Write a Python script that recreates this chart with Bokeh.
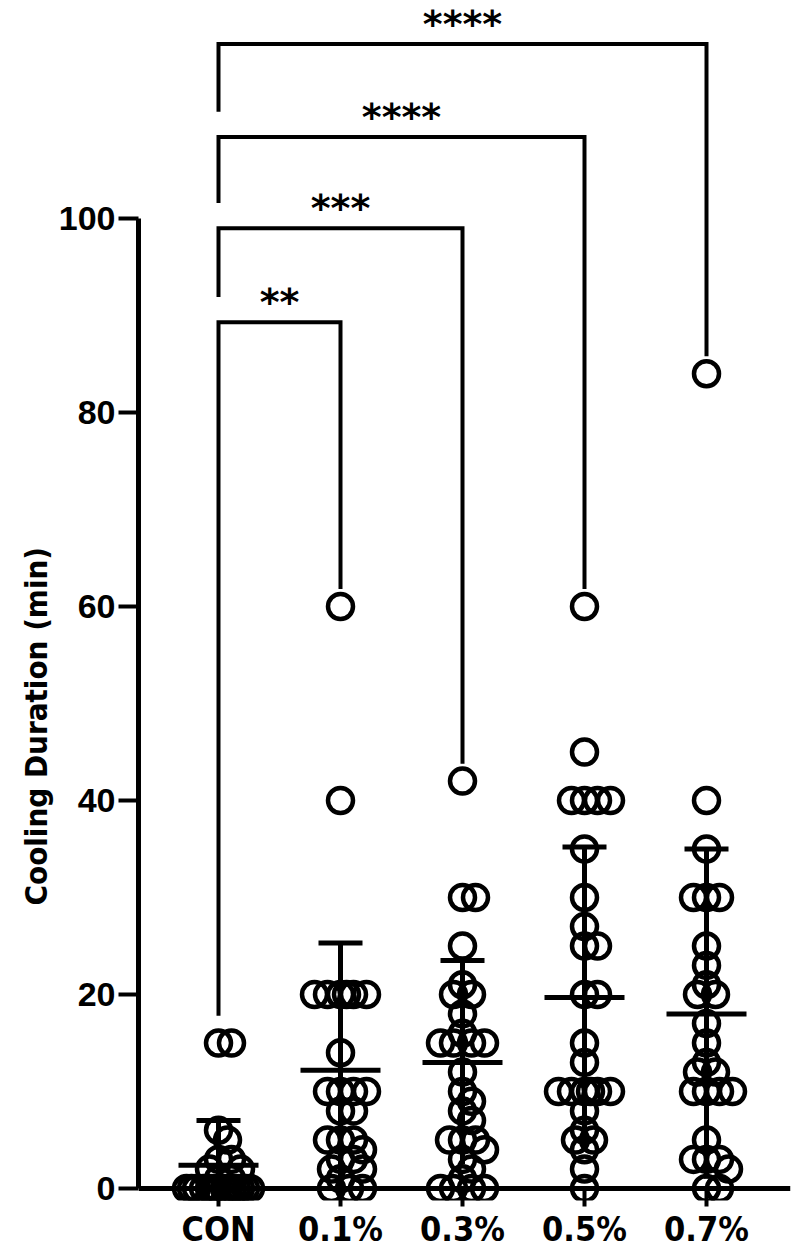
import math
from bokeh.plotting import figure
from bokeh.models import FixedTicker, Span, Range1d, Title
from bokeh.core.properties import value
from bokeh.embed import file_html
from bokeh.resources import INLINE

# ---------------- data ----------------
categories = ["CON", "0.1%", "0.3%", "0.5%", "0.7%"]

con = [15, 15, 6, 5, 3, 3, 2, 2, 1, 1, 0, 0, 0, 0, 0, 0, 0, 0, 0, 0, 0, 0, 0, 0]
p01 = [60, 40, 20, 20, 20, 20, 20, 20, 14, 10, 10, 10, 10, 8, 8, 5, 5, 5, 4, 3, 3, 2, 2, 1, 0, 0, 0]
p03 = [42, 30, 30, 25, 21, 20, 20, 18, 16, 15, 15, 15, 15, 12, 10, 9, 8, 7, 5, 5, 5, 4, 3, 2, 1, 0, 0, 0, 0]
p05 = [60, 45, 40, 40, 40, 40, 35, 30, 27, 25, 25, 20, 20, 15, 13, 10, 10, 10, 10, 10, 10, 8, 6, 5, 5, 4, 2, 0]
p07 = [84, 40, 35, 30, 30, 30, 25, 23, 21, 20, 20, 17, 15, 13, 12, 12, 10, 10, 10, 10, 5, 3, 3, 3, 2, 0, 0]
groups = [con, p01, p03, p05, p07]

means = [2.4, 12.2, 13.0, 19.7, 18.0]
sds = [4.6, 13.1, 10.5, 15.5, 17.0]

# significance brackets: CON vs each treatment
comparisons = ["0.1%", "0.3%", "0.5%", "0.7%"]
sig_labels = ["**", "***", "****", "****"]
bracket_heights = [89.3, 99.0, 108.4, 118.0]

y_ticks = [0, 20, 40, 60, 80, 100]
y_title = "Cooling Duration (min)"

# ---------------- geometry ----------------
PX_X = 122.0   # pixels per category
PX_Y = 9.7     # pixels per minute
W, H = 800, 1252
BL, BR, BB = 138, 10, 52
frame_w, frame_h = W - BL - BR, H - BB
x0 = -80.0 / PX_X
x1 = x0 + frame_w / PX_X
y1 = 1188.0 / PX_Y
y0 = y1 - frame_h / PX_Y


def swarm(vals, dmin=13.0, wmax=32):
    placed = []
    offs = sorted(range(-wmax, wmax + 1), key=lambda o: (abs(o), -o))
    out = []
    for v in vals:
        yp = v * PX_Y
        best, bestd = 0, -1.0
        for o in offs:
            d = min((math.hypot(o - px, yp - py) for px, py in placed), default=1e9)
            if d >= dmin:
                best = o
                break
            if d > bestd:
                bestd, best = d, o
        placed.append((best, yp))
        out.append(best / PX_X)
    return out


p = figure(width=W, height=H, output_backend="svg", toolbar_location=None,
           x_range=Range1d(x0, x1), y_range=Range1d(y0, y1),
           min_border_left=BL, min_border_right=BR, min_border_top=0, min_border_bottom=BB)
p.outline_line_color = None
p.xgrid.visible = False
p.ygrid.visible = False
p.background_fill_color = "white"

# points
for i, vals in enumerate(groups):
    xs = [i + o for o in swarm(vals)]
    p.scatter(xs, vals, size=25, marker="circle", fill_alpha=0,
              line_color="black", line_width=4.5)

# mean and SD
xc = list(range(len(categories)))
p.segment(x0=[i - 40 / PX_X for i in xc], x1=[i + 40 / PX_X for i in xc],
          y0=means, y1=means, line_color="black", line_width=5)
p.segment(x0=xc, x1=xc, y0=[m - s for m, s in zip(means, sds)],
          y1=[m + s for m, s in zip(means, sds)], line_color="black", line_width=5)
p.segment(x0=[i - 22 / PX_X for i in xc], x1=[i + 22 / PX_X for i in xc],
          y0=[m + s for m, s in zip(means, sds)], y1=[m + s for m, s in zip(means, sds)],
          line_color="black", line_width=5)

# x axis line at 0
p.add_layout(Span(location=0, dimension="width", line_color="black", line_width=5))

# brackets
bx, by = [], []
lx, ly, lt = [], [], []
prev_top = max(con) + 2.8
for comp, lab, h in zip(comparisons, sig_labels, bracket_heights):
    k = categories.index(comp)
    right_bottom = max(groups[k]) + 1.8
    bx.append([0, 0, k, k])
    by.append([prev_top, h, h, right_bottom])
    prev_top = h + 2.6
    lx.append(k / 2.0)
    ly.append(h)
    lt.append(lab)
p.multi_line(bx, by, line_color="black", line_width=4, line_join="miter", line_cap="butt")
p.text(lx, ly, text=lt, text_font=value("DejaVu Sans"), text_font_style="bold",
       text_font_size="38px", text_align="center", text_baseline="middle",
       y_offset=-20, text_color="black")

# y axis
ya = p.yaxis[0]
ya.bounds = (0, 100)
ya.ticker = FixedTicker(ticks=y_ticks)
ya.axis_line_width = 5
ya.major_tick_line_width = 4
ya.major_tick_out = 20
ya.major_tick_in = 0
ya.minor_tick_line_color = None
ya.major_label_text_font = "Liberation Sans"
ya.major_label_text_font_style = "bold"
ya.major_label_text_font_size = "34px"
ya.major_label_text_color = "black"
ya.major_label_standoff = 3

# y title (placed as a side title so it can sit lower, like the reference)
p.add_layout(Title(text=y_title, align="left", offset=295, standoff=4,
                   text_font="DejaVu Sans Condensed", text_font_style="bold",
                   text_font_size="31px", text_color="black"), "left")

# x axis (labels + ticks)
xa = p.xaxis[0]
xa.ticker = FixedTicker(ticks=xc)
xa.major_label_overrides = {i: c for i, c in enumerate(categories)}
xa.axis_line_color = None
xa.major_tick_line_width = 4
xa.major_tick_in = 12
xa.major_tick_out = 6
xa.minor_tick_line_color = None
xa.major_label_text_font = "DejaVu Sans Condensed"
xa.major_label_text_font_style = "bold"
xa.major_label_text_font_size = "34px"
xa.major_label_text_color = "black"
xa.major_label_standoff = 2

open("out.html", "w").write(file_html(p, INLINE))
